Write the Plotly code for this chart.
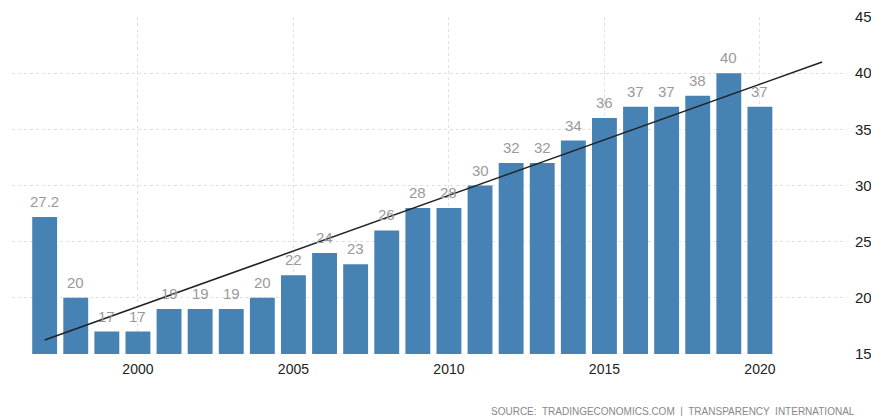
import plotly.graph_objects as go

years = list(range(1997, 2021))
values = [27.2, 20, 17, 17, 19, 19, 19, 20, 22, 24, 23, 26, 28, 28, 30, 32, 32, 34, 36, 37, 37, 38, 40, 37]
labels = ["27.2", "20", "17", "17", "19", "19", "19", "20", "22", "24", "23", "26", "28", "28",
          "30", "32", "32", "34", "36", "37", "37", "38", "40", "37"]
trend_x = [1997, 2022]
trend_y = [16.25, 41.0]
x_ticks = [2000, 2005, 2010, 2015, 2020]
y_ticks = [15, 20, 25, 30, 35, 40, 45]
source_text = "SOURCE:  TRADINGECONOMICS.COM  |  TRANSPARENCY  INTERNATIONAL"

FONT = "Liberation Sans, Arial, sans-serif"

fig = go.Figure()
fig.add_trace(go.Bar(
    x=years, y=values, base=0,
    marker=dict(color="#4682b4", line=dict(width=0)),
    width=0.8,
))
fig.add_trace(go.Scatter(
    x=trend_x, y=trend_y, mode="lines",
    line=dict(color="#222222", width=1.5),
    cliponaxis=False,
))

annotations = [
    dict(x=xv, y=yv, text=t, xref="x", yref="y", showarrow=False,
         yanchor="bottom", xanchor="center", yshift=5,
         font=dict(size=15, color="#9a9a9a", family=FONT))
    for xv, yv, t in zip(years, values, labels)
]
annotations.append(dict(
    text=source_text, xref="paper", yref="paper",
    x=1.0125, y=-0.17, xanchor="right", yanchor="middle",
    showarrow=False,
    font=dict(size=10, color="#888888", family=FONT),
))

fig.update_layout(
    width=871, height=416,
    margin=dict(l=12, r=24, t=17, b=62),
    paper_bgcolor="white", plot_bgcolor="white",
    showlegend=False,
    font=dict(family=FONT),
    xaxis=dict(
        range=[1995.95, 2022.8],
        tickvals=x_ticks, ticktext=[str(t) for t in x_ticks],
        showgrid=True, gridcolor="#e0e0e0", griddash="dot", gridwidth=1,
        tickfont=dict(size=14, color="#222222"),
        ticks="", showline=False, zeroline=False,
        ticklabelstandoff=5, automargin=False,
    ),
    yaxis=dict(
        range=[15, 45], side="right",
        tickvals=y_ticks,
        showgrid=True, gridcolor="#e0e0e0", griddash="dot", gridwidth=1,
        tickfont=dict(size=15, color="#222222"),
        ticks="", showline=False, zeroline=False,
        ticklabelstandoff=7, automargin=False,
    ),
    annotations=annotations,
)

fig.write_html("out.html", config={"displayModeBar": False},
               post_script="document.body.style.margin='0';document.body.style.overflow='hidden';")
